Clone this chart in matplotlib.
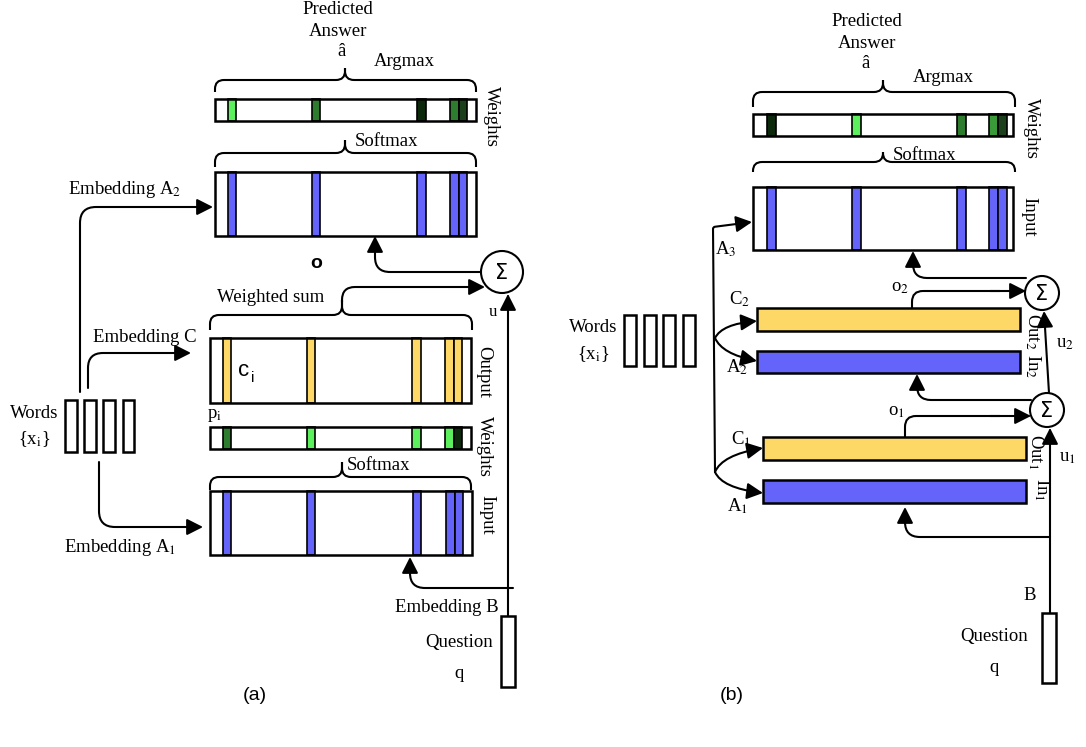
import numpy as np
import matplotlib
matplotlib.use("Agg")
import matplotlib.pyplot as plt
from matplotlib.patches import Rectangle, Circle, FancyArrowPatch, PathPatch
from matplotlib.path import Path

plt.rcParams['font.family'] = ['Liberation Serif', 'DejaVu Serif']
plt.rcParams['mathtext.fontset'] = 'stix'

# colours of the memory cells
BLUE = '#6464fa'
YELLOW = '#fdd867'
GREENS = {'light': '#5cf05c', 'mid': '#2e7d2e', 'mid2': '#3a9a3a',
          'dark': '#1a3f1a', 'vdark': '#0c290c'}

# stripe layout (fraction of the bar width) for panel (a) and (b)
STRIPES_A = [0.050, 0.370, 0.775, 0.902, 0.934]
STRIPE_W_A = 0.032
STRIPES_B = [0.055, 0.380, 0.783, 0.908, 0.943]
STRIPE_W_B = 0.035

# weight intensities of the stripes
WEIGHTS_A_TOP = ['light', 'mid', 'vdark', 'mid', 'dark']
WEIGHTS_A_P = ['mid', 'light', 'light', 'light', 'vdark']
WEIGHTS_B_TOP = ['vdark', 'light', 'mid', 'mid2', 'dark']

WORD_BOXES = 4

fig = plt.figure(figsize=(10.86, 7.47), dpi=100)
ax = fig.add_axes([0, 0, 1, 1])
ax.set_xlim(0, 1086)
ax.set_ylim(747, 0)
ax.axis('off')

LW = 1.5
FS = 13.5


def rounded(points, r=14):
    verts = [points[0]]
    codes = [Path.MOVETO]
    for i in range(1, len(points) - 1):
        p = np.array(points[i], float)
        a = np.array(points[i - 1], float)
        b = np.array(points[i + 1], float)
        da = (a - p) / np.linalg.norm(a - p)
        db = (b - p) / np.linalg.norm(b - p)
        verts += [tuple(p + da * r), tuple(p), tuple(p + db * r)]
        codes += [Path.LINETO, Path.CURVE3, Path.CURVE3]
    verts.append(points[-1])
    codes.append(Path.LINETO)
    return Path(verts, codes)


def arrow(path):
    ax.add_patch(FancyArrowPatch(path=path,
                                 arrowstyle='-|>,head_length=0.75,head_width=0.38',
                                 mutation_scale=13, lw=LW, color='black', zorder=5))


def line(points, r=14):
    ax.add_patch(PathPatch(rounded(points, r), fill=False, lw=LW, ec='black', zorder=5))


def brace(x0, x1, xt, y_end, y_top, y_tip):
    line([(x0, y_end), (x0, y_top), (xt, y_top), (xt, y_tip)], r=9)
    line([(xt, y_tip), (xt, y_top), (x1, y_top), (x1, y_end)], r=9)


def strip_box(x0, y0, x1, y1, pos, w, colors):
    ax.add_patch(Rectangle((x0, y0), x1 - x0, y1 - y0, fc='white', ec='none', zorder=2))
    for p, c in zip(pos, colors):
        sx = x0 + p * (x1 - x0)
        ax.add_patch(Rectangle((sx, y0), w * (x1 - x0), y1 - y0, fc=c, ec='black',
                               lw=1.2, zorder=3))
    ax.add_patch(Rectangle((x0, y0), x1 - x0, y1 - y0, fill=False, ec='black', lw=1.8, zorder=4))


def solid_box(x0, y0, x1, y1, color):
    ax.add_patch(Rectangle((x0, y0), x1 - x0, y1 - y0, fc=color, ec='black', lw=1.8, zorder=3))


def sigma(cx, cy, r):
    ax.add_patch(Circle((cx, cy), r, fc='white', ec='black', lw=LW, zorder=6))
    ax.text(cx, cy + 1, 'Σ', family='DejaVu Sans', fontsize=15, ha='center', va='center', zorder=7)


def words(x_left, y0, y1, gap, w):
    for i in range(WORD_BOXES):
        ax.add_patch(Rectangle((x_left + i * gap, y0), w, y1 - y0, fc='white', ec='black',
                               lw=1.8, zorder=3))


def txt(x, y, s, size=FS, rot=0, **kw):
    ax.text(x, y, s, fontsize=size, rotation=rot, ha='center', va='center', **kw)


# ---------------- panel (a) ----------------
txt(338, 10, 'Predicted')
txt(338, 31, 'Answer')
txt(341, 51, 'â')
txt(404, 61, 'Argmax')
brace(215, 476, 345, 92, 80, 68)
strip_box(215, 99, 476, 121, STRIPES_A, STRIPE_W_A, [GREENS[g] for g in WEIGHTS_A_TOP])
txt(491, 116, 'Weights', rot=-90)
brace(215, 476, 345, 167, 153, 140)
txt(386, 141, 'Softmax')
strip_box(215, 172, 476, 236, STRIPES_A, STRIPE_W_A, [BLUE] * 5)
txt(316, 264, 'o', size=14, family='Liberation Sans', weight='bold')

txt(125, 189, 'Embedding A$_\\mathrm{2}$')
arrow(rounded([(80, 392), (80, 207), (213, 207)], 16))

sigma(502, 272, 21)
arrow(rounded([(481, 272), (375, 272), (375, 236)], 15))
brace(210, 472, 342, 330, 315, 300)
arrow(rounded([(342, 302), (342, 287), (485, 287)], 13))
txt(271, 298, 'Weighted sum')
txt(493, 312, 'u', size=12)
arrow(rounded([(508, 616), (508, 294)]))

txt(145, 337, 'Embedding C')
arrow(rounded([(88, 388), (88, 353), (191, 353)], 15))
strip_box(210, 338, 471, 403, STRIPES_A, STRIPE_W_A, [YELLOW] * 5)
txt(244, 371, 'c', size=16, family='Liberation Sans')
txt(253, 378, 'i', size=11, family='Liberation Sans')
txt(484, 372, 'Output', rot=-90)

txt(215, 415, 'p$_\\mathrm{i}$')
strip_box(210, 427, 471, 449, STRIPES_A, STRIPE_W_A, [GREENS[g] for g in WEIGHTS_A_P])
txt(484, 446, 'Weights', rot=-90)

brace(210, 471, 342, 490, 477, 462)
txt(379, 466, 'Softmax')
strip_box(210, 491, 472, 555, STRIPES_A, STRIPE_W_A, [BLUE] * 5)
txt(487, 515, 'Input', rot=-90)

txt(34, 413, 'Words')
txt(34, 439, '{x$_\\mathrm{i}$}')
words(65, 400, 452, 19.2, 11.5)
arrow(rounded([(99, 462), (99, 527), (203, 527)], 16))
txt(120, 547, 'Embedding A$_\\mathrm{1}$')

arrow(rounded([(513, 588), (410, 588), (410, 557)], 15))
txt(447, 608, 'Embedding B')
ax.add_patch(Rectangle((501, 616), 14, 71, fc='white', ec='black', lw=1.8, zorder=3))
txt(459, 642, 'Question')
txt(459, 674, 'q')

# ---------------- panel (b) ----------------
txt(867, 21, 'Predicted')
txt(867, 44, 'Answer')
txt(866, 64, 'â')
txt(943, 77, 'Argmax')
brace(753, 1015, 883, 107, 92, 80)
strip_box(753, 114, 1013, 136, STRIPES_B, STRIPE_W_B, [GREENS[g] for g in WEIGHTS_B_TOP])
txt(1031, 128, 'Weights', rot=-90)
brace(753, 1015, 883, 172, 162, 152)
txt(925, 155, 'Softmax')
strip_box(753, 187, 1013, 250, STRIPES_B, STRIPE_W_B, [BLUE] * 5)
txt(1029, 217, 'Input', rot=-90)

arrow(rounded([(715, 472), (713, 227), (752, 222)], 2))
txt(726, 249, 'A$_\\mathrm{3}$')

sigma(1042, 293, 17)
sigma(1047, 410, 17)

txt(740, 299, 'C$_\\mathrm{2}$')
solid_box(757, 308, 1020, 331, YELLOW)
solid_box(757, 351, 1020, 373, BLUE)
txt(737, 367, 'A$_\\mathrm{2}$')
txt(1033, 331, 'Out$_\\mathrm{2}$', rot=-90)
txt(1033, 366, 'In$_\\mathrm{2}$', rot=-90)
arrow(Path([(715, 338), (722, 324), (757, 321)], [Path.MOVETO, Path.CURVE3, Path.CURVE3]))
arrow(Path([(715, 338), (722, 354), (757, 361)], [Path.MOVETO, Path.CURVE3, Path.CURVE3]))

arrow(rounded([(1026, 278), (913, 278), (913, 251)], 14))
line([(912, 308), (912, 291), (1000, 291)], 11)
arrow(rounded([(990, 291), (1026, 291)]))
txt(900, 288, 'o$_\\mathrm{2}$')
arrow(rounded([(1049, 393), (1044, 311)]))
txt(1065, 343, 'u$_\\mathrm{2}$')

arrow(rounded([(1031, 400), (917, 400), (917, 374)], 14))
line([(905, 437), (905, 416), (1000, 416)], 11)
arrow(rounded([(990, 416), (1031, 416)]))
txt(896, 412, 'o$_\\mathrm{1}$')

txt(741, 439, 'C$_\\mathrm{1}$')
solid_box(763, 437, 1026, 460, YELLOW)
solid_box(763, 480, 1026, 503, BLUE)
txt(738, 506, 'A$_\\mathrm{1}$')
txt(1036, 452, 'Out$_\\mathrm{1}$', rot=-90)
txt(1042, 490, 'In$_\\mathrm{1}$', rot=-90)
arrow(Path([(715, 472), (722, 455), (763, 448)], [Path.MOVETO, Path.CURVE3, Path.CURVE3]))
arrow(Path([(715, 472), (722, 488), (763, 493)], [Path.MOVETO, Path.CURVE3, Path.CURVE3]))

arrow(rounded([(1050, 613), (1050, 428)]))
txt(1067, 458, 'u$_\\mathrm{1}$')
arrow(rounded([(1050, 537), (905, 537), (905, 507)], 15))
txt(1030, 595, 'B')
ax.add_patch(Rectangle((1042, 613), 14, 70, fc='white', ec='black', lw=1.8, zorder=3))
txt(994, 637, 'Question')
txt(994, 668, 'q')

txt(593, 328, 'Words')
txt(593, 354, '{x$_\\mathrm{i}$}')
words(624, 315, 366, 19.5, 12)

# captions
txt(255, 695, '(a)', size=14, family='Liberation Sans')
txt(732, 695, '(b)', size=14, family='Liberation Sans')

fig.savefig('out.png', dpi=100)
